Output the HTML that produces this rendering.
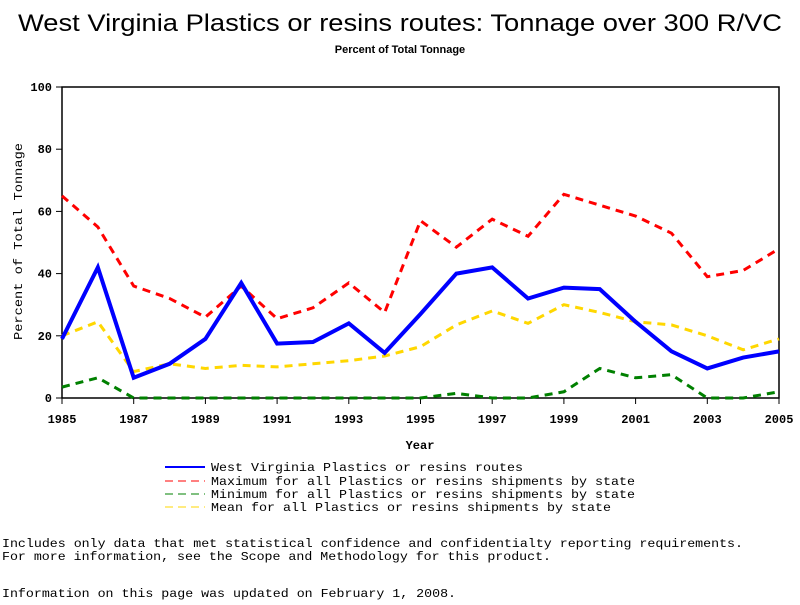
<!DOCTYPE html>
<html><head><meta charset="utf-8"><style>
body{margin:0;background:#fff;width:800px;height:600px;overflow:hidden}
svg text{font-family:"Liberation Mono",monospace}
</style></head><body>
<svg width="800" height="600" xmlns="http://www.w3.org/2000/svg">
<text x="18" y="31" textLength="764" lengthAdjust="spacingAndGlyphs" style="font-family:'Liberation Sans',sans-serif;font-size:24px">West Virginia Plastics or resins routes: Tonnage over 300 R/VC</text>
<text x="400" y="53" text-anchor="middle" font-size="11" font-weight="bold" style="font-family:'Liberation Sans',sans-serif">Percent of Total Tonnage</text>
<rect x="62" y="87" width="717" height="311" fill="none" stroke="#000" stroke-width="1.5"/>
<g id="axes"></g>
<g id="series"></g>
<text x="420" y="449" text-anchor="middle" font-size="12" font-weight="bold">Year</text>
<text transform="translate(22,340) rotate(-90)" textLength="197" lengthAdjust="spacingAndGlyphs" font-size="12">Percent of Total Tonnage</text>
<g font-size="12">
<line x1="165" y1="467" x2="205" y2="467" stroke="#0000ff" stroke-width="2"/><text x="211" y="471" textLength="312" lengthAdjust="spacingAndGlyphs">West Virginia Plastics or resins routes</text>
<line x1="165" y1="481" x2="205" y2="481" stroke="#ff0000" stroke-dasharray="8,5"/><text x="211" y="485" textLength="424" lengthAdjust="spacingAndGlyphs">Maximum for all Plastics or resins shipments by state</text>
<line x1="165" y1="494" x2="205" y2="494" stroke="#008000" stroke-dasharray="8,5"/><text x="211" y="498" textLength="424" lengthAdjust="spacingAndGlyphs">Minimum for all Plastics or resins shipments by state</text>
<line x1="165" y1="507" x2="205" y2="507" stroke="#ffd700" stroke-dasharray="8,5"/><text x="211" y="511" textLength="400" lengthAdjust="spacingAndGlyphs">Mean for all Plastics or resins shipments by state</text>
</g>
<text x="2" y="547" font-size="12" textLength="741" lengthAdjust="spacingAndGlyphs">Includes only data that met statistical confidence and confidentialty reporting requirements.</text>
<text x="2" y="560" font-size="12" textLength="549" lengthAdjust="spacingAndGlyphs">For more information, see the Scope and Methodology for this product.</text>
<text x="2" y="597" font-size="12" textLength="454" lengthAdjust="spacingAndGlyphs">Information on this page was updated on February 1, 2008.</text>
</svg>
<script>
const years=[1985,1986,1987,1988,1989,1990,1991,1992,1993,1994,1995,1996,1997,1998,1999,2000,2001,2002,2003,2004,2005];
const wvValues=[19,42,6.5,11,19,37,17.5,18,24,14.5,27,40,42,32,35.5,35,24.5,15,9.5,13,15];
const maxValues=[65,55,36,32,26,36,25.5,29,37,27.5,57,48.5,57.5,52,65.5,62,58.5,53,39,41,48];
const minValues=[3.5,6.5,0,0,0,0,0,0,0,0,0,1.5,0,0,2,9.5,6.5,7.5,0,0,2];
const meanValues=[20,24.5,8.5,11,9.5,10.5,10,11,12,13.5,16.5,23.5,28,24,30,27.5,24.5,23.5,20,15.5,19];
const yTicks=[0,20,40,60,80,100];
const xTickLabels=[1985,1987,1989,1991,1993,1995,1997,1999,2001,2003,2005];
const NS="http://www.w3.org/2000/svg";
const X=y=>62+(y-1985)*(717/20);
const Y=v=>398-v*3.11;
function mk(tag,attrs,parent){const e=document.createElementNS(NS,tag);for(const k in attrs)e.setAttribute(k,attrs[k]);parent.appendChild(e);return e;}
const ax=document.getElementById('axes');
yTicks.forEach(t=>{
 const l=mk('line',{x1:56,x2:62,y1:Y(t),y2:Y(t),stroke:'#000'},ax);
 
 
 const tx=mk('text',{x:52,y:Y(t)+4,'text-anchor':'end','font-size':12,'font-weight':'bold'},ax);
 tx.textContent=t;
 
 
});
xTickLabels.forEach(t=>{
 const l=mk('line',{x1:X(t),x2:X(t),y1:398,y2:404,stroke:'#000'},ax);
 
 
 const tx=mk('text',{x:X(t),y:423,'text-anchor':'middle','font-size':12,'font-weight':'bold'},ax);
 tx.textContent=t;
 
 
});
const sg=document.getElementById('series');
function line(vals,color,dash,w,name){
 const p=mk('polyline',{points:vals.map((v,i)=>X(years[i])+','+Y(v)).join(' '),fill:'none',stroke:color,'stroke-width':w,'stroke-dasharray':dash},sg);
 
 
}
line(minValues,'#008000','8,6',3,'min-line');
line(meanValues,'#ffd700','8,6',3,'mean-line');
line(maxValues,'#ff0000','8,6',3,'max-line');
line(wvValues,'#0000ff','none',4,'wv-line');
</script>
</body></html>
